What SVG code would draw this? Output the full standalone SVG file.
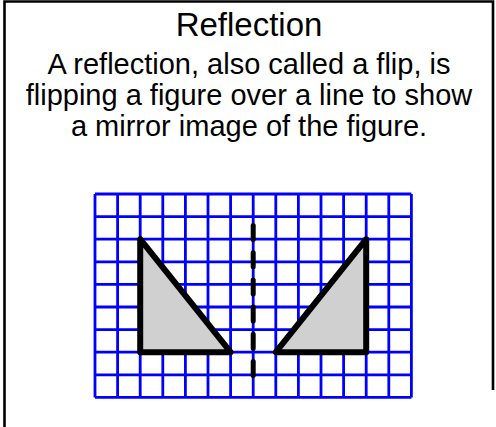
<svg xmlns="http://www.w3.org/2000/svg" width="496" height="427" viewBox="0 0 496 427">
  <style>
    .t { font-family: "Liberation Sans", Arial, sans-serif; fill: #000; text-anchor: middle; }
    .grid { stroke: #0000FF; stroke-width: 2.8; fill: none; }
    .tri { fill: #D0D0D0; stroke: #000; stroke-width: 6; stroke-linejoin: round; stroke-linecap: round; }
    .frame { stroke: #000; stroke-width: 2.6; fill: none; }
  </style>
  <rect width="496" height="427" fill="#fff"/>
  <g id="frame">
    <path class="frame" d="M4.5 427 V1.5 H493 V390"/>
  </g>
  <g id="title">
    <text class="t" x="249" y="36" font-size="33">Reflection</text>
  </g>
  <g id="description">
    <text class="t" x="249" y="74" font-size="29">A reflection, also called a flip, is</text>
    <text class="t" x="249" y="105" font-size="29">flipping a figure over a line to show</text>
    <text class="t" x="249" y="136" font-size="29">a mirror image of the figure.</text>
  </g>
  <g id="grid">
    <path class="grid" d="M95 194 V397.4 M117.6 194 V397.4 M140.2 194 V397.4 M162.8 194 V397.4 M185.4 194 V397.4 M208 194 V397.4 M230.6 194 V397.4 M253.2 194 V397.4 M275.8 194 V397.4 M298.4 194 V397.4 M321 194 V397.4 M343.6 194 V397.4 M366.2 194 V397.4 M388.8 194 V397.4 M411.4 194 V397.4 M95 194 H411.4 M95 216.6 H411.4 M95 239.2 H411.4 M95 261.8 H411.4 M95 284.4 H411.4 M95 307 H411.4 M95 329.6 H411.4 M95 352.2 H411.4 M95 374.8 H411.4 M95 397.4 H411.4"/>
  </g>
  <g id="original-triangle">
    <polygon class="tri" points="140.2,239.2 140.2,352.2 230.6,352.2"/>
  </g>
  <g id="reflected-triangle">
    <polygon class="tri" points="275.8,352.2 366.2,352.2 366.2,239.2"/>
  </g>
  <g id="mirror-line">
    <line x1="253.2" y1="225.5" x2="253.2" y2="376" stroke="#000" stroke-width="5" stroke-linecap="round" stroke-dasharray="14 13.2"/>
  </g>
</svg>
